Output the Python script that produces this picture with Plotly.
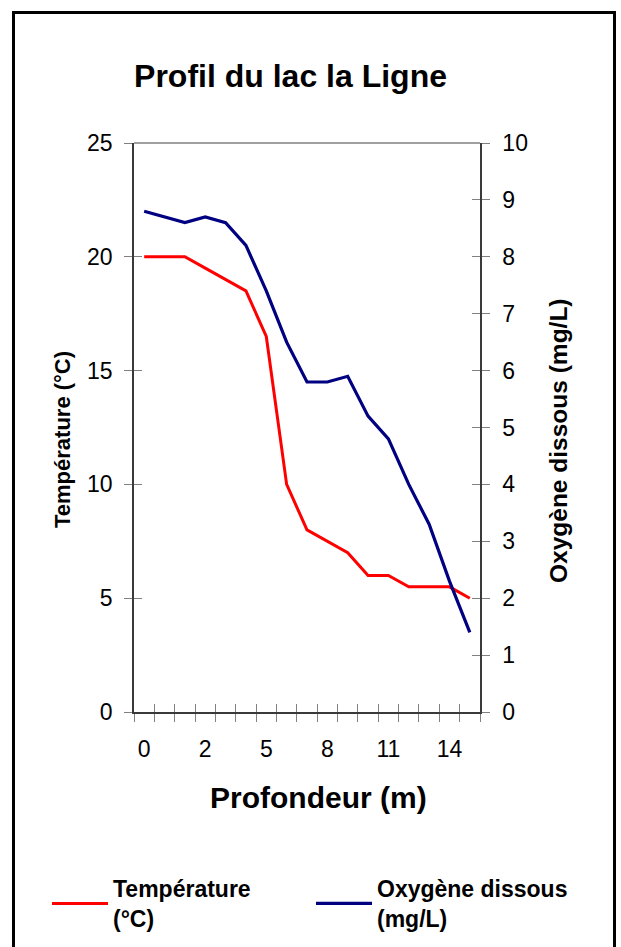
import plotly.graph_objects as go

# ---- data ----
depth_labels = ["0", "0.5", "1", "2", "3", "4", "5", "6", "7", "8", "9",
                "10", "11", "12", "13", "14", "15"]
temperature = [20, 20, 20, 19.5, 19, 18.5, 16.5, 10, 8, 7.5, 7, 6, 6, 5.5, 5.5, 5.5, 5]
oxygen = [8.8, 8.7, 8.6, 8.7, 8.6, 8.2, 7.4, 6.5, 5.8, 5.8, 5.9, 5.2, 4.8, 4.0, 3.3, 2.3, 1.4]
temp_ticks = [0, 5, 10, 15, 20, 25]
oxy_ticks = [0, 1, 2, 3, 4, 5, 6, 7, 8, 9, 10]

title_text = "Profil du lac la Ligne"
x_title = "Profondeur (m)"
y_title = "Température (°C)"
y2_title = "Oxygène dissous (mg/L)"
temp_name = "Température<br>(°C)"
oxy_name = "Oxygène dissous<br>(mg/L)"

FONT = "Liberation Sans, Arial, sans-serif"
W, H = 621, 947
L, R, T, B = 134, 141, 143, 235
PW, PH = W - L - R, H - T - B

def px_x(px):
    return (px - L) / PW

def px_y(py):
    return (H - B - py) / PH

n = len(depth_labels)
idx = list(range(n))
boundaries = [i - 0.5 for i in range(n + 1)]
xr = [-0.5, n - 0.5]

fig = go.Figure()
fig.add_trace(go.Scatter(x=idx, y=temperature, mode="lines", name=temp_name,
                         line=dict(color="#FF0000", width=3), xaxis="x", yaxis="y",
                         legend="legend"))
fig.add_trace(go.Scatter(x=idx, y=oxygen, mode="lines", name=oxy_name,
                         line=dict(color="#000080", width=3.2), xaxis="x", yaxis="y2",
                         legend="legend2"))

tick_gray = "#808080"
axis_dark = "#3a3a3a"
tickfont = dict(family=FONT, size=23, color="black")
legend_font = dict(family=FONT, size=23, color="black", weight="bold")

fig.update_layout(
    width=W, height=H, template="none",
    paper_bgcolor="white", plot_bgcolor="white",
    margin=dict(l=L, r=R, t=T, b=B, autoexpand=False),
    title=dict(text=title_text, x=290.5 / W, xanchor="center", xref="container",
               y=1 - 76 / H, yanchor="middle", yref="container",
               font=dict(family=FONT, size=32, color="black", weight="bold")),
    xaxis=dict(range=xr, tickmode="array", tickvals=boundaries, ticks="outside",
               ticklen=8, tickwidth=1, tickcolor=tick_gray, showticklabels=False,
               showline=True, linecolor=axis_dark, linewidth=1.5,
               showgrid=False, zeroline=False, anchor="y"),
    xaxis2=dict(range=xr, overlaying="x", tickmode="array", tickvals=boundaries,
                ticks="inside", ticklen=8, tickwidth=1, tickcolor=tick_gray,
                showticklabels=False, showline=False, showgrid=False,
                zeroline=False, anchor="y", side="bottom"),
    xaxis3=dict(range=xr, overlaying="x", tickmode="array", tickvals=idx[::3],
                ticktext=depth_labels[::3], ticks="", showline=False,
                showgrid=False, zeroline=False, anchor="y", side="bottom",
                tickfont=tickfont, ticklabelstandoff=21),
    yaxis=dict(range=[0, 25], tickmode="array", tickvals=temp_ticks,
               ticks="outside", ticklen=8, tickwidth=1, tickcolor=tick_gray,
               showline=True, linecolor=axis_dark, linewidth=1.5,
               showgrid=False, zeroline=False, tickfont=tickfont,
               ticklabelstandoff=7, anchor="x"),
    yaxis3=dict(range=[0, 25], overlaying="y", tickmode="array", tickvals=temp_ticks,
                ticks="inside", ticklen=8, tickwidth=1, tickcolor=tick_gray,
                showticklabels=False, showline=False, showgrid=False,
                zeroline=False, anchor="x"),
    yaxis2=dict(range=[0, 10], overlaying="y", side="right", tickmode="array",
                tickvals=oxy_ticks, ticks="outside", ticklen=8, tickwidth=1,
                tickcolor=tick_gray, showline=True, linecolor=axis_dark,
                linewidth=1.5, showgrid=False, zeroline=False,
                tickfont=tickfont, ticklabelstandoff=8, anchor="x"),
    yaxis4=dict(range=[0, 10], overlaying="y", side="right", tickmode="array",
                tickvals=oxy_ticks, ticks="inside", ticklen=8, tickwidth=1,
                tickcolor=tick_gray, showticklabels=False, showline=False,
                showgrid=False, zeroline=False, anchor="x"),
    legend=dict(orientation="h", xref="paper", x=px_x(47), xanchor="left",
                yref="paper", y=px_y(867), yanchor="top",
                itemwidth=56, valign="middle", bgcolor="rgba(0,0,0,0)",
                font=legend_font),
    legend2=dict(orientation="h", xref="paper", x=px_x(311), xanchor="left",
                 yref="paper", y=px_y(867), yanchor="top",
                 itemwidth=56, valign="middle", bgcolor="rgba(0,0,0,0)",
                 font=legend_font),
    showlegend=True,
)

# invisible helpers so overlay axes get drawn
fig.add_trace(go.Scatter(x=[None], y=[None], xaxis="x2", yaxis="y3", showlegend=False, hoverinfo="skip"))
fig.add_trace(go.Scatter(x=[None], y=[None], xaxis="x3", yaxis="y4", showlegend=False, hoverinfo="skip"))

# axis titles
fig.add_annotation(text=x_title, xref="paper", yref="paper", x=px_x(318.5), y=px_y(797),
                   xanchor="center", yanchor="middle", showarrow=False,
                   font=dict(family=FONT, size=30, color="black", weight="bold"))
fig.add_annotation(text=y_title, xref="paper", yref="paper", x=px_x(62), y=px_y(440),
                   xanchor="center", yanchor="middle", textangle=-90, showarrow=False,
                   font=dict(family=FONT, size=22, color="black", weight="bold"))
fig.add_annotation(text=y2_title, xref="paper", yref="paper", x=px_x(558), y=px_y(441),
                   xanchor="center", yanchor="middle", textangle=-90, showarrow=False,
                   font=dict(family=FONT, size=24.5, color="black", weight="bold"))

# top border of plot area and outer frame
fig.add_shape(type="line", xref="paper", yref="paper", x0=0, x1=1, y0=1, y1=1,
              line=dict(color=tick_gray, width=1.5))
fig.add_shape(type="rect", xref="paper", yref="paper", x0=px_x(13.5), x1=px_x(614.5),
              y0=px_y(1000), y1=px_y(12.5), line=dict(color="black", width=3),
              fillcolor="rgba(0,0,0,0)")

fig.write_html("out.html", config={"displayModeBar": False},
               post_script="document.body.style.margin='0';document.body.style.padding='0';")
